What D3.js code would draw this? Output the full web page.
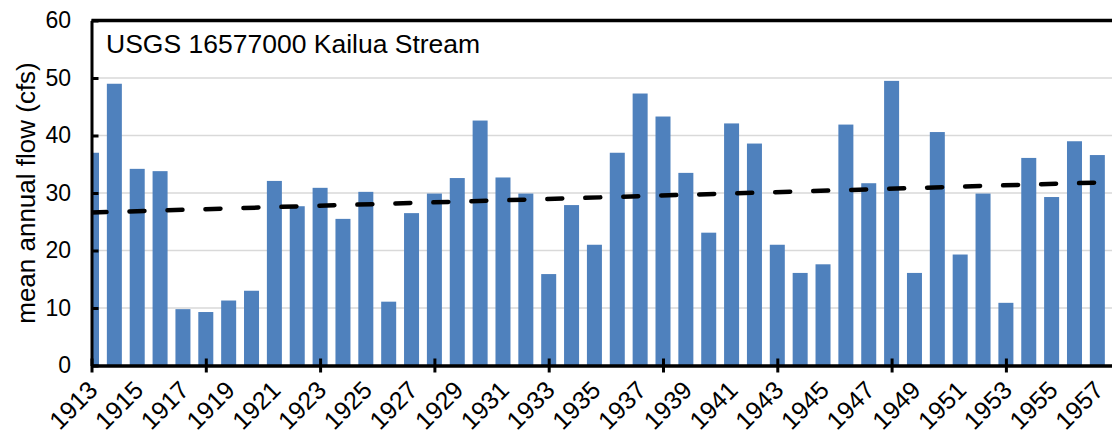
<!DOCTYPE html>
<html>
<head>
<meta charset="utf-8">
<script src="https://cdn.jsdelivr.net/npm/d3@7"></script>
<style>
  body { margin: 0; background: #fff; }
  svg { display: block; }
  text { font-family: Arial, "Liberation Sans", sans-serif; fill: #000; }
</style>
</head>
<body>
<svg id="chart"></svg>
<script>
// mean annual flow, USGS 16577000 Kailua Stream
const years = [1913, 1914, 1915, 1916, 1917, 1918, 1919, 1920, 1921, 1922,
               1923, 1924, 1925, 1926, 1927, 1928, 1929, 1930, 1931, 1932,
               1933, 1934, 1935, 1936, 1937, 1938, 1939, 1940, 1941, 1942,
               1943, 1944, 1945, 1946, 1947, 1948, 1949, 1950, 1951, 1952,
               1953, 1954, 1955, 1956, 1957];
const flow = [37.0, 49.0, 34.2, 33.8, 9.8, 9.3, 11.3, 13.0, 32.1, 27.7,
              30.9, 25.5, 30.2, 11.1, 26.5, 29.9, 32.6, 42.6, 32.7, 29.9,
              15.9, 27.9, 21.0, 37.0, 47.3, 43.3, 33.5, 23.1, 42.1, 38.6,
              21.0, 16.1, 17.6, 41.9, 31.7, 49.5, 16.1, 40.6, 19.3, 29.9,
              10.9, 36.1, 29.3, 39.0, 36.6];
const yTicks = [0, 10, 20, 30, 40, 50, 60];
const xTickYears = [1913, 1918, 1923, 1928, 1933, 1938, 1943, 1948, 1953, 1958];
const xLabelYears = [1913, 1915, 1917, 1919, 1921, 1923, 1925, 1927, 1929, 1931,
                     1933, 1935, 1937, 1939, 1941, 1943, 1945, 1947, 1949, 1951,
                     1953, 1955, 1957];
const title = "USGS 16577000 Kailua Stream";
const yTitle = "mean annual flow (cfs)";

const width = 1112, height = 430;
const plotL = 91.5, plotT = 20.5, plotB = 365.5, plotR = 1120.2;

const svg = d3.select("#chart")
    .attr("width", width)
    .attr("height", height);

const x = d3.scaleLinear().domain([1913, 1958]).range([plotL, plotR]);
const y = d3.scaleLinear().domain([0, 60]).range([plotB, plotT]);

svg.append("defs").append("clipPath")
    .attr("id", "plot-clip")
    .append("rect")
    .attr("x", plotL)
    .attr("y", plotT)
    .attr("width", plotR - plotL)
    .attr("height", plotB - plotT);

// gridlines
svg.append("g")
    .selectAll("line")
    .data(yTicks.filter(d => d > 0 && d < 60))
    .join("line")
    .attr("x1", plotL)
    .attr("x2", plotR)
    .attr("y1", d => y(d))
    .attr("y2", d => y(d))
    .attr("stroke", "#d9d9d9")
    .attr("stroke-width", 1.5);

// bars
const barW = 15;
svg.append("g")
    .attr("clip-path", "url(#plot-clip)")
    .selectAll("rect")
    .data(years)
    .join("rect")
    .attr("x", d => x(d) - barW / 2)
    .attr("width", barW)
    .attr("y", (d, i) => y(flow[i]))
    .attr("height", (d, i) => y(0) - y(flow[i]))
    .attr("fill", "#4f81bd");

// linear trendline (least squares)
const mx = d3.mean(years), my = d3.mean(flow);
const slope = d3.sum(years, (d, i) => (d - mx) * (flow[i] - my)) / d3.sum(years, d => (d - mx) ** 2);
const icpt = my - slope * mx;
const trendYears = [1913, 1958];
svg.append("path")
    .attr("clip-path", "url(#plot-clip)")
    .attr("d", d3.line().x(d => x(d)).y(d => y(icpt + slope * d))(trendYears))
    .attr("fill", "none")
    .attr("stroke", "#000")
    .attr("stroke-width", 4.5)
    .attr("stroke-dasharray", "15,23")
    .attr("stroke-linecap", "round");

// top border
svg.append("line")
    .attr("x1", plotL).attr("x2", plotR)
    .attr("y1", plotT).attr("y2", plotT)
    .attr("stroke", "#000").attr("stroke-width", 3.5);

// y axis
const yAxis = svg.append("g")
    .attr("transform", `translate(${plotL},0)`)
    .call(d3.axisLeft(y).tickValues(yTicks).tickSizeInner(-7).tickSizeOuter(0).tickPadding(20.5));
yAxis.select(".domain").attr("stroke", "#000").attr("stroke-width", 3);
yAxis.selectAll(".tick line").attr("stroke", "#000").attr("stroke-width", 3);
yAxis.selectAll(".tick text")
    .style("font-size", "23px")
    .style("font-family", "Arial, 'Liberation Sans', sans-serif");

// x axis ticks (crossing)
const xAxis = svg.append("g")
    .attr("transform", `translate(0,${plotB})`)
    .call(d3.axisBottom(x).tickValues(xTickYears).tickSizeInner(7).tickSizeOuter(0).tickFormat(""));
xAxis.select(".domain").attr("stroke", "#000").attr("stroke-width", 3.5);
xAxis.selectAll(".tick line").attr("y1", -7).attr("stroke", "#000").attr("stroke-width", 3);

// x labels, rotated, text end just under each year
const lx = 1, ly = 20;
const xLabels = svg.append("g")
    .attr("transform", `translate(0,${plotB})`)
    .call(d3.axisBottom(x).tickValues(xLabelYears).tickSize(0).tickFormat(d3.format("d")));
xLabels.select(".domain").remove();
xLabels.selectAll(".tick text")
    .style("font-size", "25px")
    .style("font-family", "Arial, 'Liberation Sans', sans-serif")
    .attr("text-anchor", "end")
    .attr("x", Math.SQRT1_2 * (lx - ly))
    .attr("y", Math.SQRT1_2 * (lx + ly))
    .attr("dy", "0.35em")
    .attr("transform", "rotate(-45)");

// y title
svg.append("text")
    .attr("transform", `translate(35,${(plotT + plotB) / 2}) rotate(-90)`)
    .attr("text-anchor", "middle")
    .style("font-size", "26px")
    .text(yTitle);

// chart title inside plot
svg.append("text")
    .attr("x", 106)
    .attr("y", 52.5)
    .style("font-size", "26.5px")
    .text(title);
</script>
</body>
</html>
